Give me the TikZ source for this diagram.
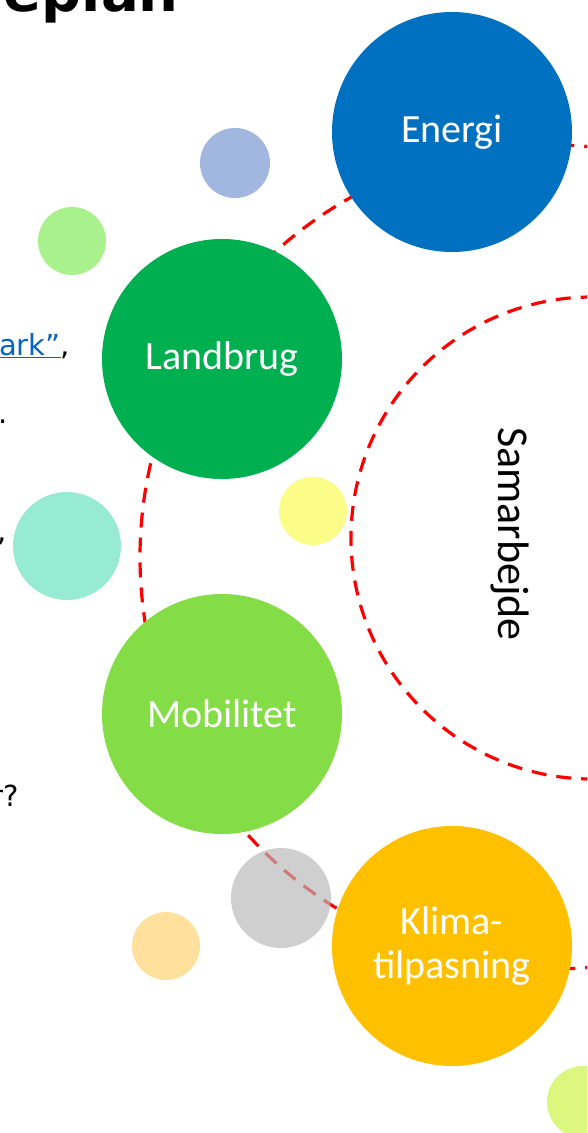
\documentclass[tikz,border=0pt]{standalone}
\usepackage{fontspec}
\setmainfont{DejaVu Sans}
\newfontfamily\lblfont{Carlito}
\usepackage{tikz}
\definecolor{energiblue}{HTML}{0070C0}
\definecolor{landgreen}{HTML}{00B050}
\definecolor{mobgreen}{HTML}{84DC46}
\definecolor{klimaorange}{HTML}{FFC000}
\definecolor{dotblue}{HTML}{A1B7E0}
\definecolor{dotgreen}{HTML}{A9F18C}
\definecolor{dotyellow}{HTML}{FCFC88}
\definecolor{dotteal}{HTML}{98EBD3}
\definecolor{dotgray}{HTML}{B8B8B8}
\definecolor{dotorange}{HTML}{FFE19D}
\definecolor{dotlime}{HTML}{DCF77E}
\definecolor{linkblue}{HTML}{0563C1}
\tikzset{
  bignode/.style = {circle, inner sep=0pt, minimum size=240pt, align=center,
    text=white, font=\lblfont\fontsize{40}{44}\selectfont},% store cirkler
  dotnode/.style = {circle, inner sep=0pt},% smaa prikker
  ring/.style = {red, line width=3.2pt, dash pattern=on 15pt off 10pt},
  bodytext/.style = {anchor=base east, inner sep=0pt,
    font=\fontsize{29}{35}\selectfont}
}

\begin{document}
\begin{tikzpicture}[x=1pt,y=-1pt]
  \useasboundingbox (0,0) rectangle (587,1133);
  \clip (0,0) rectangle (587,1133);

  % tekst fra sliden
  \node [anchor=base east, inner sep=0pt, font=\bfseries\fontsize{56}{60}\selectfont] (title) at (179,11) {eplan};
  \node [bodytext] (t1) at (70,355) {\textcolor{linkblue}{\underline{ark”}},};
  \node [bodytext] (t2) at (8,423) {t.};
  \node [bodytext] (t3) at (7,541) {,};
  \node [bodytext] (t4) at (19,806) {r?};

  % stiplede ringe
  \draw [ring] (552,557) circle (412pt);
  \draw [ring] (592,538) circle (241pt);
  \node [rotate=-90, font=\lblfont\fontsize{44}{48}\selectfont] (samarb) at (510,534) {Samarbejde};

  % smaa prikker
  \foreach \name/\pos/\r/\col in {d1/{(235,163)}/35/dotblue, d2/{(72,241)}/34/dotgreen,
      d3/{(313,511)}/34/dotyellow, d4/{(67,546)}/54/dotteal,
      d5/{(166,946)}/34/dotorange, d6/{(583,1102)}/36/dotlime}
    \node [dotnode, fill=\col, minimum size=2*\r pt] (\name) at \pos {};
  \node [dotnode, fill=dotgray, fill opacity=0.67, minimum size=100pt] (d7) at (281,898) {};

  % store cirkler
  \node [bignode, fill=energiblue] (n1) at (452,132) {Energi};
  \node [bignode, fill=landgreen] (n2) at (222,359) {Landbrug};
  \node [bignode, fill=mobgreen] (n3) at (222,714) {Mobilitet};
  \node [bignode, fill=klimaorange] (n4) at (452,946) {Klima-\\tilpasning};
\end{tikzpicture}
\end{document}
